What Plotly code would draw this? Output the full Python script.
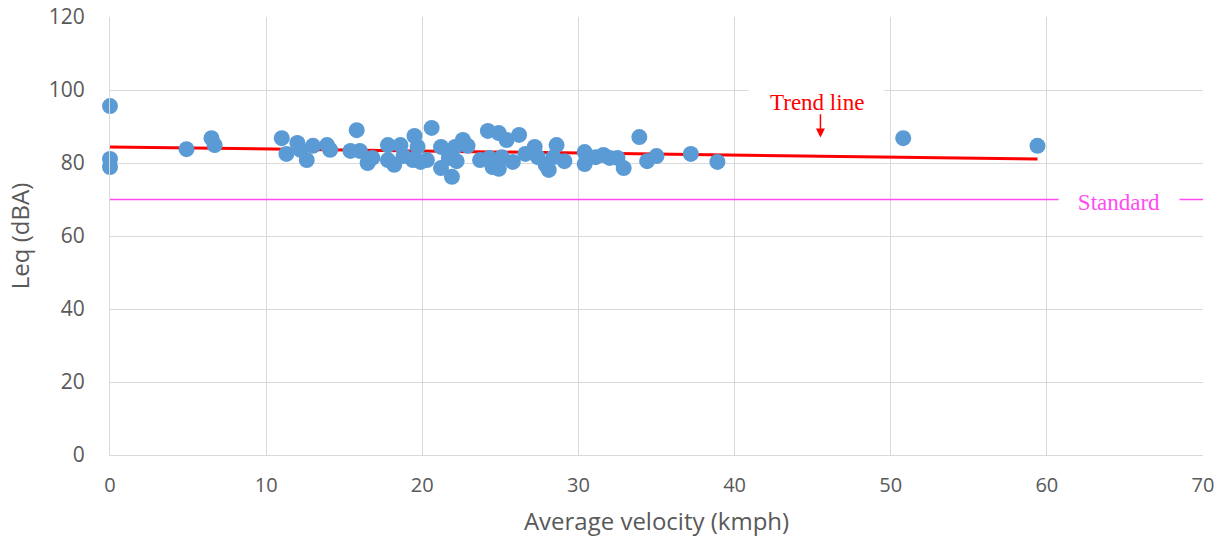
import plotly.graph_objects as go

# Measured data (Average velocity kmph, Leq dBA)
velocity = [0.0, 0.0, 0.0, 4.9, 6.5, 6.7, 11.0, 11.3, 12.0, 12.2, 12.6, 13.0, 13.9, 14.1,
            15.4, 15.8, 16.0, 16.5, 16.8, 17.8, 17.8, 18.2, 18.6, 18.8, 19.5, 19.4, 19.7,
            19.9, 20.3, 20.6, 21.2, 21.2, 21.7, 21.9, 22.1, 22.2, 22.6, 22.9, 23.7, 24.2,
            24.3, 24.5, 24.9, 24.9, 25.1, 25.4, 25.8, 26.2, 26.6, 27.2, 27.4, 27.9, 28.1,
            28.4, 28.6, 29.1, 30.4, 30.4, 31.1, 31.6, 32.0, 32.5, 32.9, 33.9, 34.4, 35.0,
            37.2, 38.9, 50.8, 59.4]
leq = [95.6, 81.1, 78.9, 83.8, 86.8, 84.9, 86.8, 82.5, 85.5, 83.6, 80.8, 84.7, 84.9, 83.6,
       83.3, 89.0, 83.3, 80.0, 81.4, 84.9, 80.8, 79.5, 84.9, 81.9, 87.4, 80.8, 84.4,
       80.3, 80.8, 89.6, 84.4, 78.6, 81.4, 76.2, 84.4, 80.5, 86.3, 84.7, 80.8, 88.8,
       81.4, 78.9, 88.2, 78.4, 81.6, 86.3, 80.3, 87.7, 82.5, 84.4, 81.6, 79.5, 78.1,
       81.6, 84.9, 80.5, 83.0, 79.7, 81.6, 82.2, 81.4, 81.4, 78.6, 87.1, 80.5, 81.9,
       82.5, 80.3, 86.8, 84.7]

trend_x = [0.0, 59.4]
trend_y = [84.4, 81.1]

standard_x = [-0.8, 70.0]
standard_y = [70.0, 70.0]

x_ticks = [0, 10, 20, 30, 40, 50, 60, 70]
y_ticks = [0, 20, 40, 60, 80, 100, 120]

BLUE = "#5B9BD5"
GRID = "#D9D9D9"
TICK = "#595959"
MAGENTA = "#FF4CF2"

fig = go.Figure()

fig.add_trace(go.Scatter(x=standard_x, y=standard_y, mode="lines",
                         line=dict(color=MAGENTA, width=1.3), cliponaxis=False,
                         hoverinfo="skip", showlegend=False))
fig.add_trace(go.Scatter(x=trend_x, y=trend_y, mode="lines",
                         line=dict(color="#FF0000", width=3), cliponaxis=False,
                         showlegend=False))
fig.add_trace(go.Scatter(x=velocity, y=leq, mode="markers",
                         marker=dict(color=BLUE, size=16, line=dict(width=0)),
                         cliponaxis=False, showlegend=False))

# white box behind the "Trend line" label (covers gridline)
fig.add_shape(type="rect", x0=40.9, x1=49.6, y0=96.5, y1=103.5, layer="between",
              fillcolor="white", line=dict(width=0))

fig.add_annotation(x=45.3, y=96.6, text="Trend line", showarrow=False,
                   font=dict(family="Liberation Serif", size=23, color="#FF0000"))
fig.add_annotation(x=45.5, y=87.0, ax=45.5, ay=93.8, axref="x", ayref="y",
                   text="", showarrow=True, arrowhead=2, arrowsize=1.2,
                   arrowwidth=1.5, arrowcolor="#FF0000")
fig.add_annotation(x=64.6, y=69.3, text="Standard", showarrow=False,
                   bgcolor="white", borderpad=2,
                   font=dict(family="Liberation Serif", size=23, color=MAGENTA),
                   width=116)

fig.update_layout(
    width=1228, height=537,
    margin=dict(l=110, r=25, t=17, b=82),
    plot_bgcolor="white", paper_bgcolor="white",
    font=dict(family="Open Sans", color=TICK),
    xaxis=dict(range=[0, 70], tickvals=x_ticks, ticktext=[str(v) for v in x_ticks],
               showgrid=True, gridcolor=GRID, gridwidth=1, zeroline=False,
               showline=True, linecolor=GRID, linewidth=1, ticks="",
               automargin=False, ticklabelstandoff=12,
               tickfont=dict(family="Open Sans", size=20, color=TICK),
               title=dict(text="Average velocity (kmph)", standoff=16,
                          font=dict(family="Open Sans", size=24, color=TICK))),
    yaxis=dict(range=[0, 120], tickvals=y_ticks, ticktext=[str(v) for v in y_ticks],
               showgrid=True, gridcolor=GRID, gridwidth=1, zeroline=False,
               showline=True, linecolor=GRID, linewidth=1,
               ticks="outside", ticklen=20, tickcolor="rgba(0,0,0,0)",
               automargin=False,
               tickfont=dict(family="Open Sans", size=21, color=TICK),
               title=dict(text="Leq (dBA)", standoff=12,
                          font=dict(family="Open Sans", size=24, color=TICK))),
)

fig.write_html("out.html", post_script="document.body.style.margin='0';",
               config={"displayModeBar": False})
